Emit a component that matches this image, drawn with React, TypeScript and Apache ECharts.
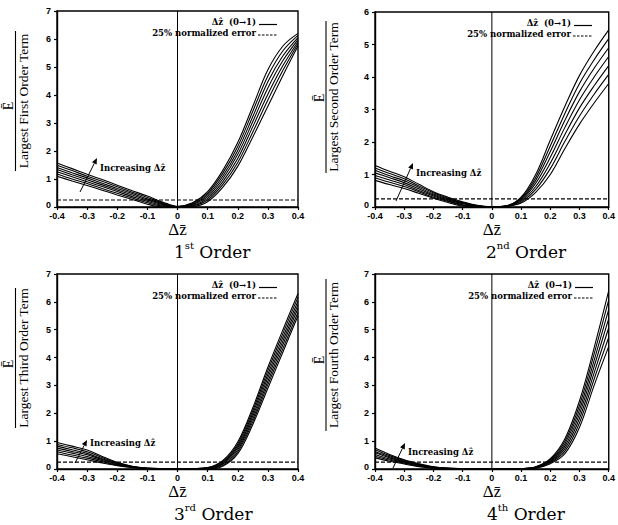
import React, { useEffect, useRef } from "react";
import * as echarts from "echarts";

// ---------- data ----------
const XS = [-0.4, -0.35, -0.3, -0.25, -0.2, -0.15, -0.1, -0.05, 0, 0.05, 0.1, 0.15, 0.2, 0.25, 0.3, 0.35, 0.4];

const FIRST_ORDER = [
  [1.57, 1.37, 1.17, 0.98, 0.78, 0.58, 0.39, 0.18, 0.02, 0.15, 0.55, 1.3, 2.3, 3.6, 4.9, 5.75, 6.2],
  [1.49, 1.3, 1.1, 0.92, 0.72, 0.53, 0.34, 0.15, 0.02, 0.13, 0.49, 1.2, 2.16, 3.42, 4.68, 5.58, 6.13],
  [1.41, 1.22, 1.04, 0.85, 0.66, 0.48, 0.29, 0.12, 0.01, 0.11, 0.43, 1.1, 2.02, 3.23, 4.47, 5.4, 6.05],
  [1.34, 1.15, 0.97, 0.79, 0.61, 0.43, 0.25, 0.09, 0.01, 0.09, 0.37, 1.0, 1.88, 3.05, 4.25, 5.23, 5.98],
  [1.26, 1.08, 0.9, 0.73, 0.55, 0.37, 0.2, 0.06, 0.01, 0.06, 0.31, 0.9, 1.73, 2.87, 4.03, 5.05, 5.9],
  [1.18, 1.0, 0.84, 0.66, 0.49, 0.32, 0.15, 0.03, 0.0, 0.04, 0.25, 0.8, 1.59, 2.68, 3.82, 4.88, 5.83],
  [1.1, 0.93, 0.77, 0.6, 0.43, 0.27, 0.1, 0.0, 0.0, 0.02, 0.19, 0.7, 1.45, 2.5, 3.6, 4.7, 5.75],
];

const SECOND_ORDER = [
  [1.28, 1.1, 0.93, 0.7, 0.47, 0.3, 0.16, 0.05, 0.01, 0.04, 0.3, 1.0, 2.06, 3.1, 4.05, 4.8, 5.45],
  [1.2, 1.03, 0.87, 0.65, 0.44, 0.27, 0.14, 0.04, 0.01, 0.04, 0.27, 0.91, 1.88, 2.88, 3.8, 4.53, 5.18],
  [1.13, 0.96, 0.81, 0.61, 0.4, 0.25, 0.12, 0.03, 0.01, 0.03, 0.24, 0.82, 1.71, 2.67, 3.55, 4.27, 4.9],
  [1.05, 0.9, 0.75, 0.56, 0.37, 0.22, 0.1, 0.03, 0.01, 0.03, 0.21, 0.73, 1.53, 2.45, 3.3, 4.0, 4.63],
  [0.97, 0.83, 0.69, 0.51, 0.34, 0.19, 0.07, 0.02, 0.0, 0.03, 0.18, 0.63, 1.35, 2.23, 3.05, 3.73, 4.35],
  [0.9, 0.76, 0.63, 0.47, 0.3, 0.17, 0.05, 0.01, 0.0, 0.02, 0.15, 0.54, 1.18, 2.02, 2.8, 3.47, 4.08],
  [0.82, 0.69, 0.57, 0.42, 0.27, 0.14, 0.03, 0.0, 0.0, 0.02, 0.12, 0.45, 1.0, 1.8, 2.55, 3.2, 3.8],
];

const THIRD_ORDER = [
  [0.95, 0.82, 0.68, 0.45, 0.24, 0.1, 0.03, 0.01, 0.0, 0.01, 0.05, 0.3, 0.97, 2.2, 3.65, 5.0, 6.3],
  [0.88, 0.76, 0.62, 0.41, 0.22, 0.09, 0.03, 0.01, 0.0, 0.01, 0.04, 0.27, 0.9, 2.1, 3.53, 4.87, 6.17],
  [0.82, 0.69, 0.56, 0.37, 0.2, 0.08, 0.02, 0.01, 0.0, 0.01, 0.03, 0.23, 0.83, 2.0, 3.4, 4.73, 6.03],
  [0.75, 0.63, 0.51, 0.34, 0.18, 0.08, 0.02, 0.0, 0.0, 0.01, 0.03, 0.2, 0.76, 1.9, 3.28, 4.6, 5.9],
  [0.68, 0.57, 0.45, 0.3, 0.16, 0.07, 0.02, 0.0, 0.0, 0.0, 0.02, 0.17, 0.69, 1.8, 3.15, 4.47, 5.77],
  [0.62, 0.5, 0.39, 0.26, 0.14, 0.06, 0.01, 0.0, 0.0, 0.0, 0.01, 0.13, 0.62, 1.7, 3.03, 4.33, 5.63],
  [0.55, 0.44, 0.33, 0.22, 0.12, 0.05, 0.01, 0.0, 0.0, 0.0, 0.0, 0.1, 0.55, 1.6, 2.9, 4.2, 5.5],
];

const FOURTH_ORDER = [
  [0.75, 0.52, 0.33, 0.19, 0.08, 0.03, 0.01, 0, 0, 0, 0.01, 0.08, 0.37, 1.09, 2.45, 4.35, 6.4],
  [0.69, 0.48, 0.31, 0.17, 0.07, 0.03, 0.01, 0, 0, 0, 0.01, 0.07, 0.34, 1.0, 2.29, 4.13, 6.07],
  [0.63, 0.44, 0.28, 0.15, 0.06, 0.02, 0.01, 0, 0, 0, 0.01, 0.06, 0.31, 0.91, 2.13, 3.9, 5.73],
  [0.58, 0.4, 0.26, 0.14, 0.06, 0.02, 0.01, 0, 0, 0, 0.01, 0.06, 0.28, 0.82, 1.98, 3.68, 5.4],
  [0.52, 0.36, 0.23, 0.12, 0.05, 0.02, 0, 0, 0, 0, 0, 0.05, 0.25, 0.73, 1.82, 3.45, 5.07],
  [0.46, 0.32, 0.21, 0.1, 0.04, 0.01, 0, 0, 0, 0, 0, 0.04, 0.22, 0.64, 1.66, 3.23, 4.73],
  [0.4, 0.28, 0.18, 0.08, 0.03, 0.01, 0, 0, 0, 0, 0, 0.03, 0.19, 0.55, 1.5, 3.0, 4.4],
];

const PANELS_DATA = [FIRST_ORDER, SECOND_ORDER, THIRD_ORDER, FOURTH_ORDER];
const Y_MAX = [7, 6, 7, 7];
const ERROR_LEVEL = 0.25;
const X_MIN = -0.4;
const X_MAX = 0.4;
const TITLE_NUM = ["1", "2", "3", "4"];
const TITLE_SUP = ["st", "nd", "rd", "th"];
const Y_NAMES = [
  "Largest First Order Term",
  "Largest Second Order Term",
  "Largest Third Order Term",
  "Largest Fourth Order Term",
];
const NUMERATOR = "Ē";
const X_NAME = "Δz̄";
const LEGEND_CURVES = "Δẑ  (0→1)";
const LEGEND_ERROR = "25% normalized error";
const ANNOTATION = "Increasing Δẑ";

// ---------- layout ----------
const GRIDS = [
  { left: 57, top: 11, width: 241, height: 196 },
  { left: 375, top: 12, width: 238, height: 195 },
  { left: 57, top: 274, width: 241, height: 195 },
  { left: 375, top: 274, width: 239, height: 195 },
];

const YLABEL_POS = [
  { ex: 8.5, ey: 106, bx: 15.5, tx: 23, ty: 101, len: 140 },
  { ex: 319.5, ey: 98, bx: 326, tx: 333.5, ty: 97, len: 152 },
  { ex: 8.5, ey: 364, bx: 15.5, tx: 23, ty: 358, len: 140 },
  { ex: 319.5, ey: 360, bx: 326, tx: 333.5, ty: 355, len: 152 },
];

const TITLE_POS = [
  { x: 174, y: 250 },
  { x: 486, y: 250 },
  { x: 174, y: 512 },
  { x: 487, y: 512 },
];

const ARROWS = [
  { x1: 80, y1: 192, x2: 97, y2: 158, tx: 100, ty: 168 },
  { x1: 396, y1: 201, x2: 413, y2: 163, tx: 416, ty: 173 },
  { x1: 75, y1: 463, x2: 87, y2: 440, tx: 90, ty: 443 },
  { x1: 393, y1: 468, x2: 405, y2: 443, tx: 408, ty: 452 },
];

const SERIF = "'Liberation Serif', 'DejaVu Serif', serif";
const WIDE_SERIF = "'DejaVu Serif', serif";
const SANS = "'Liberation Sans', Arial, sans-serif";

function arrowGraphic(a: { x1: number; y1: number; x2: number; y2: number }) {
  const dx = a.x2 - a.x1;
  const dy = a.y2 - a.y1;
  const L = Math.sqrt(dx * dx + dy * dy);
  const ux = dx / L;
  const uy = dy / L;
  const hl = 6;
  const hw = 2.6;
  const bx = a.x2 - ux * hl;
  const by = a.y2 - uy * hl;
  return [
    {
      type: "line",
      shape: { x1: a.x1, y1: a.y1, x2: bx, y2: by },
      style: { stroke: "#000", lineWidth: 1 },
      silent: true,
    },
    {
      type: "polygon",
      shape: {
        points: [
          [a.x2, a.y2],
          [bx - uy * hw, by + ux * hw],
          [bx + uy * hw, by - ux * hw],
        ],
      },
      style: { fill: "#000" },
      silent: true,
    },
  ];
}

function buildOption() {
  const grid = GRIDS.map((g) => ({
    ...g,
    show: true,
    borderColor: "#000",
    borderWidth: 1.4,
    backgroundColor: "transparent",
  }));

  const xAxis = GRIDS.map((_, i) => ({
    type: "value",
    gridIndex: i,
    min: X_MIN,
    max: X_MAX,
    interval: 0.1,
    name: X_NAME,
    nameLocation: "middle",
    nameGap: 14,
    nameTextStyle: { fontFamily: SERIF, fontSize: 17, color: "#000" },
    axisLine: { show: true, onZero: false, lineStyle: { color: "#000", width: 1.4 } },
    axisTick: { show: true, inside: false, length: 3, lineStyle: { color: "#000", width: 1.2 } },
    splitLine: { show: false },
    axisLabel: {
      color: "#000",
      fontFamily: SANS,
      fontWeight: "bold",
      fontSize: 9,
      margin: 4,
      formatter: (v: number) => {
        const r = Math.round(v * 10) / 10;
        return r === 0 ? "0" : r.toFixed(1);
      },
    },
  }));

  const yAxis = GRIDS.map((_, i) => ({
    type: "value",
    gridIndex: i,
    min: 0,
    max: Y_MAX[i],
    interval: 1,
    axisLine: { show: true, onZero: false, lineStyle: { color: "#000", width: 1.4 } },
    axisTick: { show: true, inside: false, length: 3, lineStyle: { color: "#000", width: 1.2 } },
    splitLine: { show: false },
    axisLabel: {
      color: "#000",
      fontFamily: SANS,
      fontWeight: "bold",
      fontSize: 9,
      margin: 6,
      formatter: (v: number) => (v === 0 ? "{z|0}" : String(v)),
      rich: {
        z: { fontFamily: SANS, fontWeight: "bold", fontSize: 9, color: "#000", padding: [0, 0, 5, 0] },
      },
    },
  }));

  const series: any[] = [];
  PANELS_DATA.forEach((curves, i) => {
    curves.forEach((vals) => {
      series.push({
        type: "line",
        xAxisIndex: i,
        yAxisIndex: i,
        data: XS.map((x, j) => [x, vals[j]]),
        smooth: 0.35,
        symbol: "none",
        lineStyle: { color: "#000", width: 1.1 },
        silent: true,
        z: 3,
      });
    });
    series.push({
      type: "line",
      xAxisIndex: i,
      yAxisIndex: i,
      data: [
        [X_MIN, ERROR_LEVEL],
        [X_MAX, ERROR_LEVEL],
      ],
      symbol: "none",
      lineStyle: { color: "#000", width: 1.2, type: [4, 2] },
      silent: true,
      z: 2,
    });
    series.push({
      type: "line",
      xAxisIndex: i,
      yAxisIndex: i,
      data: [
        [0, 0],
        [0, Y_MAX[i]],
      ],
      symbol: "none",
      lineStyle: { color: "#000", width: 1 },
      silent: true,
      z: 2,
    });
  });

  const graphic: any[] = [];
  GRIDS.forEach((g, i) => {
    const p = YLABEL_POS[i];
    graphic.push({
      type: "text",
      x: p.ex,
      y: p.ey,
      rotation: Math.PI / 2,
      style: {
        text: NUMERATOR,
        fontFamily: SERIF,
        fontSize: 14,
        fill: "#000",
        align: "center",
        verticalAlign: "middle",
      },
      silent: true,
    });
    graphic.push({
      type: "line",
      shape: { x1: p.bx, y1: p.ty - p.len / 2, x2: p.bx, y2: p.ty + p.len / 2 },
      style: { stroke: "#000", lineWidth: 1.1 },
      silent: true,
    });
    graphic.push({
      type: "text",
      x: p.tx,
      y: p.ty,
      rotation: Math.PI / 2,
      style: {
        text: Y_NAMES[i],
        fontFamily: SERIF,
        fontSize: 13.5,
        fill: "#000",
        align: "center",
        verticalAlign: "middle",
      },
      silent: true,
    });

    // legend
    const right = g.left + g.width;
    const top = g.top;
    graphic.push({
      type: "text",
      x: right - 42,
      y: top + 11,
      style: {
        text: LEGEND_CURVES,
        fontFamily: WIDE_SERIF,
        fontWeight: "bold",
        fontSize: 8.5,
        fill: "#000",
        align: "right",
        verticalAlign: "middle",
      },
      silent: true,
    });
    graphic.push({
      type: "line",
      shape: { x1: right - 39, y1: top + 13.5, x2: right - 21, y2: top + 13.5 },
      style: { stroke: "#000", lineWidth: 1.2 },
      silent: true,
    });
    graphic.push({
      type: "text",
      x: right - 42,
      y: top + 22,
      style: {
        text: LEGEND_ERROR,
        fontFamily: WIDE_SERIF,
        fontWeight: "bold",
        fontSize: 8.5,
        fill: "#000",
        align: "right",
        verticalAlign: "middle",
      },
      silent: true,
    });
    graphic.push({
      type: "line",
      shape: { x1: right - 40, y1: top + 24, x2: right - 21, y2: top + 24 },
      style: { stroke: "#000", lineWidth: 1.2, lineDash: [2.5, 1.5] },
      silent: true,
    });

    // annotation
    const a = ARROWS[i];
    graphic.push(...arrowGraphic(a));
    graphic.push({
      type: "text",
      x: a.tx,
      y: a.ty,
      style: {
        text: ANNOTATION,
        fontFamily: WIDE_SERIF,
        fontWeight: "bold",
        fontSize: 8.5,
        fill: "#000",
        align: "left",
        verticalAlign: "middle",
      },
      silent: true,
    });

    // title
    const t = TITLE_POS[i];
    graphic.push({
      type: "text",
      x: t.x,
      y: t.y,
      style: {
        text: `{n|${TITLE_NUM[i]}}{s|${TITLE_SUP[i]}}{n| Order}`,
        rich: {
          n: { fontFamily: WIDE_SERIF, fontSize: 17, fill: "#000", lineHeight: 20, verticalAlign: "bottom" },
          s: { fontFamily: WIDE_SERIF, fontSize: 10, fill: "#000", lineHeight: 20, verticalAlign: "top" },
        },
        align: "left",
        verticalAlign: "middle",
      },
      silent: true,
    });
  });

  return {
    animation: false,
    backgroundColor: "#fff",
    grid,
    xAxis,
    yAxis,
    series,
    graphic,
  };
}

export default function App() {
  const ref = useRef<HTMLDivElement>(null);
  useEffect(() => {
    if (!ref.current) return;
    const chart = echarts.init(ref.current, undefined, { renderer: "svg" });
    chart.setOption(buildOption() as any);
    return () => chart.dispose();
  }, []);
  return (
    <div
      ref={ref}
      style={{ position: "fixed", left: 0, top: 0, width: 618, height: 525, background: "#fff" }}
    />
  );
}
